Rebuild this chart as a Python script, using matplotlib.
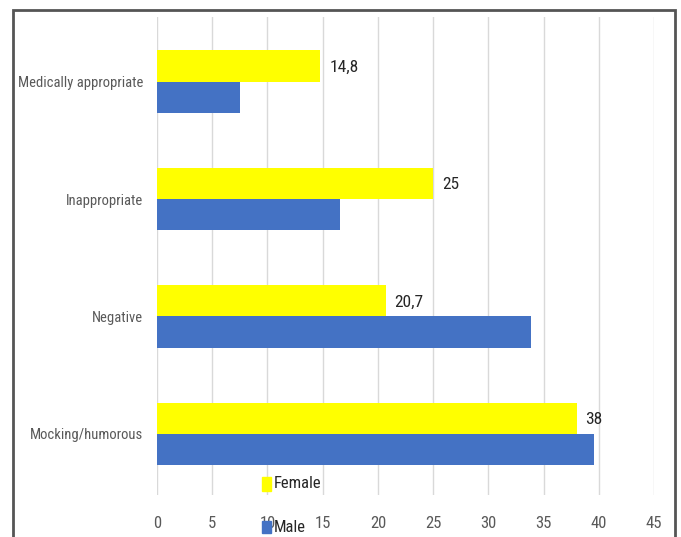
import matplotlib
matplotlib.use("Agg")
import matplotlib.pyplot as plt
from matplotlib.patches import Rectangle
from matplotlib import font_manager as fm
import numpy as np

categories = ["Mocking/humorous", "Negative", "Inappropriate", "Medically appropriate"]
female = [38, 20.7, 25, 14.8]
male = [39.6, 33.9, 16.6, 7.5]
female_labels = ["38", "20,7", "25", "14,8"]
xticks = [0, 5, 10, 15, 20, 25, 30, 35, 40, 45]

FEMALE_COLOR = "#FFFF00"
MALE_COLOR = "#4472C4"
TEXT_GRAY = "#595959"


def pick_narrow_font():
    """Return (family, stretch) of the narrowest sans face that is installed."""
    candidates = [
        ("Liberation Sans Narrow", "normal"),
        ("Roboto Condensed", "normal"),
        ("Open Sans Condensed", "normal"),
        ("Noto Sans", "condensed"),
        ("Open Sans", "condensed"),
        ("DejaVu Sans", "condensed"),
    ]
    for fam, stretch in candidates:
        try:
            path = fm.findfont(fm.FontProperties(family=fam, stretch=stretch),
                               fallback_to_default=False)
        except Exception:
            continue
        name = path.lower()
        if "narrow" in name or "condensed" in name or "cond" in name:
            return fam, stretch
    return "Liberation Sans", "normal"


FAMILY, STRETCH = pick_narrow_font()
plt.rcParams["font.family"] = [FAMILY, "DejaVu Sans"]
plt.rcParams["font.stretch"] = STRETCH

fig = plt.figure(figsize=(6.81, 5.37), dpi=100)
W, H = 681, 537
ax = fig.add_axes([157 / W, 1 - 495 / H, (654 - 157) / W, (495 - 17) / H])

y = np.arange(len(categories))
h = 0.267
ax.barh(y + h / 2, female, height=h, color=FEMALE_COLOR, label="Female", zorder=3)
ax.barh(y - h / 2, male, height=h, color=MALE_COLOR, label="Male", zorder=3)

for yi, v, lab in zip(y, female, female_labels):
    ax.text(v + 0.8, yi + h / 2 - 0.01, lab, va="center", ha="left",
            fontsize=12.5, color="#262626")

ax.set_xlim(0, 45)
ax.set_ylim(-0.52, 3.55)
ax.set_xticks(xticks)
ax.set_yticks(y)
ax.set_yticklabels(categories)
ax.tick_params(axis="y", length=0, pad=10, labelsize=10.5, labelcolor=TEXT_GRAY)
ax.tick_params(axis="x", length=0, pad=15, labelsize=12, labelcolor=TEXT_GRAY)
ax.grid(axis="x", color="#D9D9D9", linewidth=1, zorder=0)
for s in ax.spines.values():
    s.set_visible(False)

# legend entries stacked under the plot
fig.patches.append(Rectangle((262 / W, 1 - 491 / H), 9 / W, 14 / H,
                             transform=fig.transFigure, color=FEMALE_COLOR))
fig.text(274 / W, 1 - 484 / H, "Female", fontsize=12, color="#262626",
         va="center", ha="left")
fig.patches.append(Rectangle((262 / W, 1 - 533 / H), 9 / W, 12 / H,
                             transform=fig.transFigure, color=MALE_COLOR, zorder=5))
fig.text(274 / W, 1 - 527 / H, "Male", fontsize=12, color="#262626",
         va="center", ha="left", zorder=5)

# outer frame
fig.patches.append(Rectangle((13 / W, -0.05), (675 - 13) / W, 1.05 - 10 / H,
                             transform=fig.transFigure, fill=False,
                             edgecolor="#555555", linewidth=2))

fig.savefig("out.png", dpi=100)
